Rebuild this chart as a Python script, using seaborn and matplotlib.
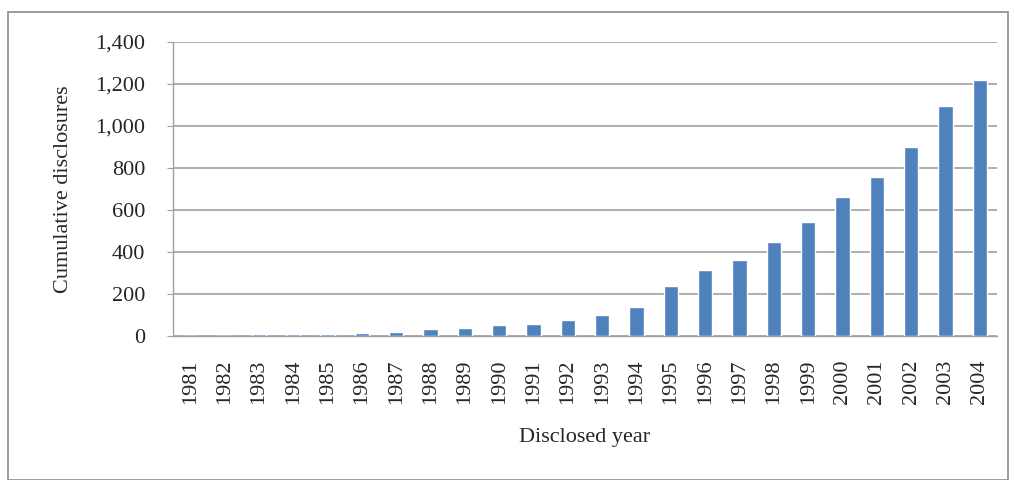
import matplotlib
matplotlib.use("Agg")
import matplotlib.pyplot as plt
import seaborn as sns
import pandas as pd
from matplotlib.ticker import FuncFormatter
from matplotlib.patches import Rectangle

years = [str(y) for y in range(1981, 2005)]
disclosures = [0, 0, 10, 10, 10, 14, 19, 32, 38, 51, 57, 75, 100, 136,
               238, 314, 362, 448, 544, 660, 757, 898, 1093, 1220]
yticks = [0, 200, 400, 600, 800, 1000, 1200, 1400]

df = pd.DataFrame({"year": years, "count": disclosures})

sns.set_style("white")
plt.rcParams["font.family"] = ["Liberation Serif", "DejaVu Serif"]

fig = plt.figure(figsize=(10.14, 4.8), dpi=100)
ax = fig.add_axes([173 / 1014, 1 - 336 / 480, (997 - 173) / 1014, (336 - 42) / 480])

sns.barplot(data=df, x="year", y="count", color="#4F81BD", saturation=1,
            width=0.42, ax=ax, zorder=3)

ax.set_xlim(-0.5, len(years) - 0.5)
ax.set_ylim(0, 1400)
ax.set_yticks(yticks)
ax.yaxis.set_major_formatter(FuncFormatter(lambda v, p: f"{int(v):,}"))
ax.grid(axis="y", color="#a0a0a0", linewidth=1.2)
ax.set_axisbelow(True)

for s in ["top", "right"]:
    ax.spines[s].set_visible(False)
for s in ["left", "bottom"]:
    ax.spines[s].set_color("#a0a0a0")
    ax.spines[s].set_linewidth(1.0)
    ax.spines[s].set_zorder(2)

ax.tick_params(axis="y", left=True, length=4, color="#a0a0a0", labelsize=16, pad=16)
ax.tick_params(axis="x", bottom=False, length=0, labelsize=16, pad=17)
plt.setp(ax.get_xticklabels(), rotation=90)

ax.set_xlabel("Disclosed year", fontsize=16, labelpad=17)
ax.set_ylabel("Cumulative disclosures", fontsize=16, labelpad=16)

fig.patches.append(Rectangle((8 / 1014, 0), 1000 / 1014, 1 - 12 / 480,
                             transform=fig.transFigure, fill=False,
                             edgecolor="#8c8c8c", linewidth=1.2))

fig.savefig("out.png", dpi=100)
